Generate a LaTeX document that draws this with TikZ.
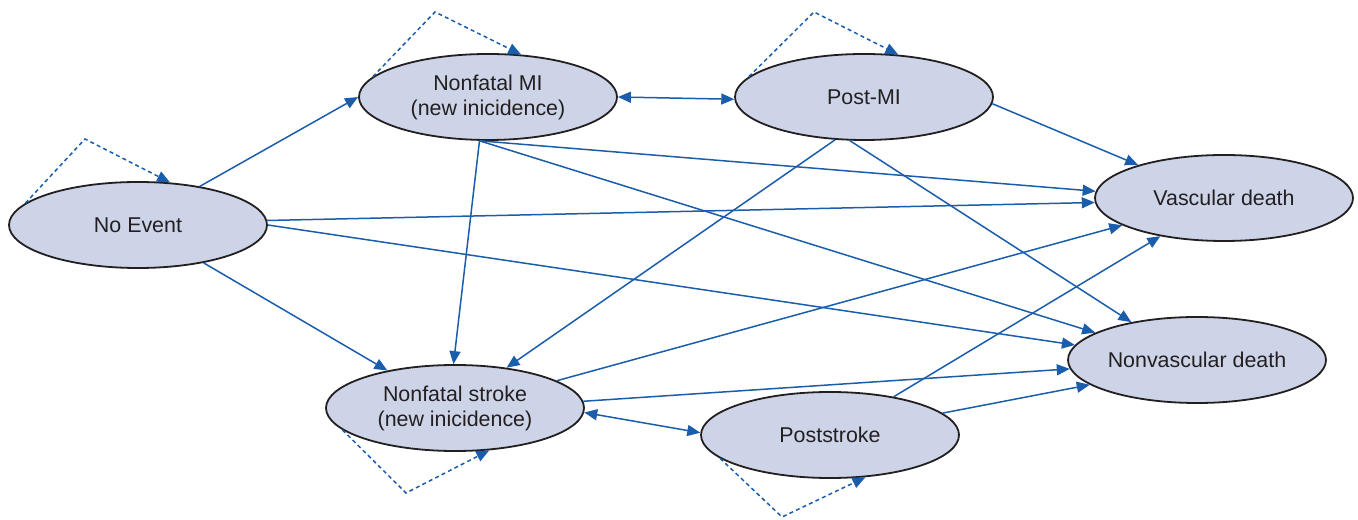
\documentclass[tikz,border=0pt]{standalone}
\usepackage{fontspec}
\setmainfont{Liberation Sans}
\usepackage{xcolor}
\usetikzlibrary{arrows.meta,shapes.geometric,calc}
\definecolor{ink}{HTML}{231F20}
\definecolor{flow}{HTML}{1A5DAB}
\definecolor{statefill}{HTML}{CDD4E8}

\begin{document}
\begin{tikzpicture}[
  x=0.5pt, y=0.5pt,
  font=\fontsize{10.7}{12.5}\selectfont,
  state/.style={ellipse, draw=ink, line width=0.9pt, fill=statefill, text=ink, minimum width=129pt, minimum height=43pt, inner sep=0pt, align=center},
  arr/.style={-{Triangle[length=6.5pt,width=5.5pt]}, line width=0.75pt, flow},
  twoway/.style={{Triangle[length=6.5pt,width=5.5pt]}-{Triangle[length=6.5pt,width=5.5pt]}, line width=0.75pt, flow},
  stay/.style={arr, dash pattern=on 2pt off 1.6pt}
]
  \useasboundingbox (0,0) rectangle (1358,519);

  % states
  \node[state] (ne)  at (138,294)  {No Event};
  \node[state] (mi)  at (488,422)  {Nonfatal MI\\(new inicidence)};
  \node[state] (pm)  at (864,422)  {Post-MI};
  \node[state] (vd)  at (1224,321) {Vascular death};
  \node[state] (nvd) at (1197,159) {Nonvascular death};
  \node[state] (st)  at (455,111)  {Nonfatal stroke\\(new inicidence)};
  \node[state] (ps)  at (830,84)   {Poststroke};

  % staying in the same state
  \draw[stay] (ne.169) -- ($(ne.center)+(-53,86)$) -- (ne.53);
  \draw[stay] (mi.170) -- ($(mi.center)+(-53,85)$) -- (mi.52);
  \draw[stay] (pm.170) -- ($(pm.center)+(-50,85)$) -- (pm.51);
  \draw[stay] (st.191) -- ($(st.center)+(-49,-85)$) -- (st.-51);
  \draw[stay] (ps.192) -- ($(ps.center)+(-48,-82)$) -- (ps.-50);

  % from no event
  \draw[arr] (ne.32)  -- (mi.west);
  \draw[arr] (ne.-30) -- (st.151);
  \draw[arr] (ne.2)   -- (vd.182);
  \draw[arr] (ne.0)   -- (nvd.173);

  % from nonfatal MI
  \draw[twoway] (mi.east) -- (pm.181);
  \draw[arr] (mi.-101) -- (st.92);
  \draw[arr] (mi.-101) -- (vd.177);
  \draw[arr] (mi.-101) -- (nvd.165);

  % from post-MI
  \draw[arr] (pm.-3)   -- (vd.159);
  \draw[arr] (pm.-124) -- (st.38);
  \draw[arr] (pm.-108) -- (nvd.150);

  % from nonfatal stroke
  \draw[arr] (st.15) -- (vd.195);
  \draw[arr] (st.3)  -- (nvd.184);
  \draw[twoway] (st.-2) -- (ps.179);

  % from poststroke
  \draw[arr] (ps.31) -- (vd.211);
  \draw[arr] (ps.11) -- (nvd.193);
\end{tikzpicture}
\end{document}
